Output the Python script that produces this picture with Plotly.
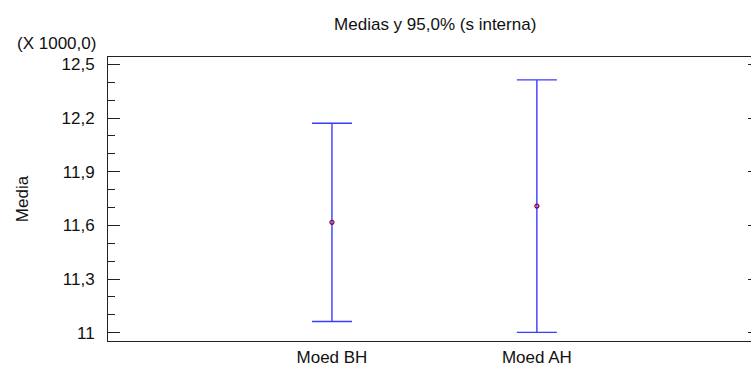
import plotly.graph_objects as go

categories = ["Moed BH", "Moed AH"]
means = [11617, 11708]
lower = [11063, 11002]
upper = [12171, 12413]
scale = 1000.0

y = [m / scale for m in means]
err_plus = [(u - m) / scale for u, m in zip(upper, means)]
err_minus = [(m - l) / scale for m, l in zip(means, lower)]

font_family = "Liberation Sans, Arial, sans-serif"
axis_color = "#222222"
yrange = [10.954, 12.541]
fs = 17

fig = go.Figure()
fig.add_trace(go.Scatter(
    x=categories, y=y, mode="markers",
    marker=dict(symbol="circle-open", size=4, color="#8b0036", line=dict(width=1.2)),
    error_y=dict(type="data", array=err_plus, arrayminus=err_minus,
                 color="#3b3bff", thickness=1.4, width=20),
    showlegend=False, hoverinfo="skip",
))
# invisible trace to draw right-side tick stubs
fig.add_trace(go.Scatter(x=categories, y=y, yaxis="y2", mode="markers",
                         marker=dict(opacity=0), showlegend=False, hoverinfo="skip"))

fig.update_layout(
    width=751, height=367,
    margin=dict(l=108, r=0, t=57, b=24),
    paper_bgcolor="white", plot_bgcolor="white",
    separators=",.",
    font=dict(family=font_family, size=fs, color="#111111"),
    title=dict(text="Medias y 95,0% (s interna)", x=0.5795, xanchor="center",
               y=1 - 24 / 367, yanchor="middle",
               font=dict(size=fs, family=font_family, color="#111111")),
    xaxis=dict(type="category", range=[-1.093, 2.045], showline=True, mirror=True,
               linecolor=axis_color, linewidth=1, ticks="", showgrid=False, zeroline=False,
               tickfont=dict(size=fs), ticklabelstandoff=1),
    yaxis=dict(range=yrange, tick0=11, dtick=0.3, showline=True, linecolor=axis_color,
               linewidth=1, ticks="inside", ticklen=12, tickcolor=axis_color, tickwidth=1,
               showgrid=False, zeroline=False, tickfont=dict(size=fs),
               ticklabelstandoff=9,
               minor=dict(ticks="inside", ticklen=7, dtick=0.1, tick0=11,
                          tickcolor=axis_color, showgrid=False),
               title=dict(text="Media", font=dict(size=fs), standoff=28)),
    yaxis2=dict(range=yrange, tick0=11, dtick=0.3, overlaying="y", side="right",
                showline=False, ticks="inside", ticklen=3, tickcolor=axis_color,
                showticklabels=False, showgrid=False, zeroline=False),
    annotations=[dict(text="(X 1000,0)", xref="paper", yref="paper",
                      x=-10 / 643, xanchor="right", y=1 + 2 / 286, yanchor="bottom",
                      showarrow=False, font=dict(size=fs, family=font_family, color="#111111"))],
)

fig.write_html("out.html")
